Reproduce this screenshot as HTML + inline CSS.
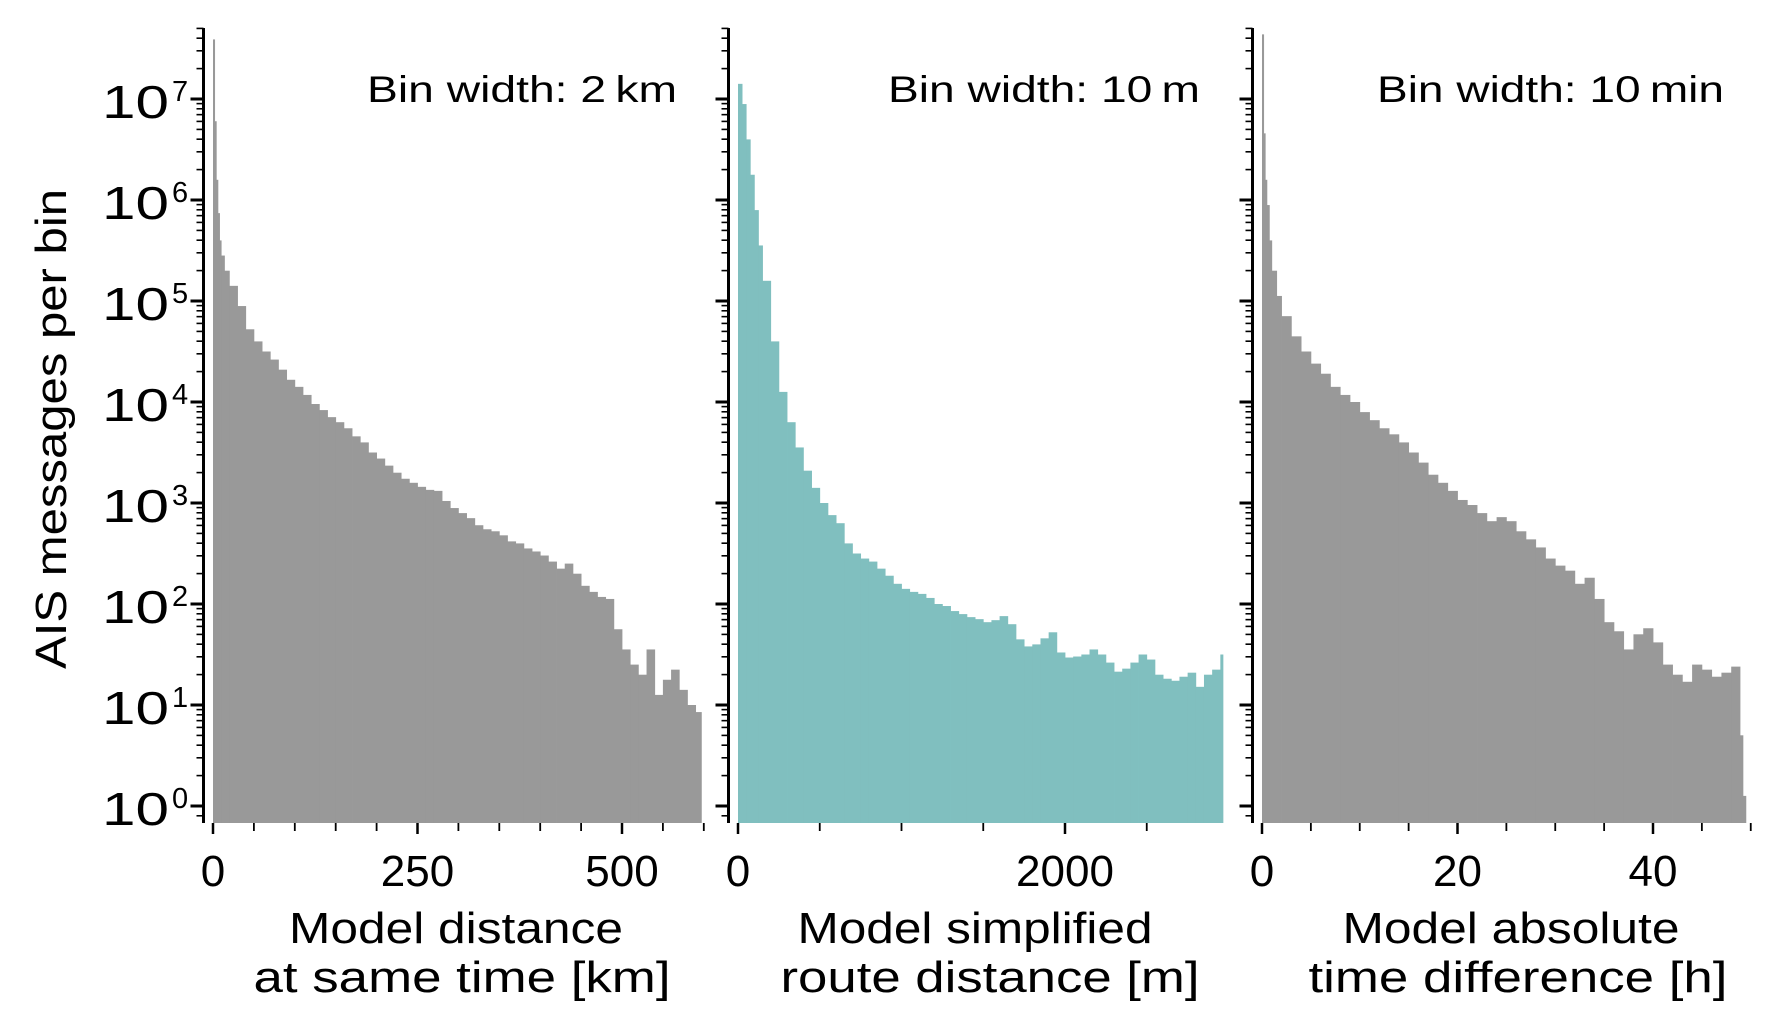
<!DOCTYPE html>
<html><head><meta charset="utf-8"><style>
html,body{margin:0;padding:0;background:#fff;}
svg{display:block;}
text{font-family:"Liberation Sans","DejaVu Sans",sans-serif;fill:#000;}
</style></head><body>
<svg id="chart" width="1782" height="1022" viewBox="0 0 1782 1022" xmlns="http://www.w3.org/2000/svg">
<text transform="translate(66,429) rotate(-90)" text-anchor="middle" font-size="44" textLength="480" lengthAdjust="spacingAndGlyphs">AIS messages per bin</text>
</svg>
<script>
// Panel 1: model distance at same time [km] — bin edges and log10(counts)
const p1Edges = [0,2,4,6,8,10,14,20,30,40,50,60,70,80,90,100,110,120,130,140,150,160,170,180,190,200,210,220,230,240,250,260,270,280,290,300,310,320,330,340,350,360,370,380,390,400,410,420,430,440,450,460,470,480,490,500,510,520,530,540,550,560,570,580,590,597];
const p1Log = [7.59,6.78,6.2,5.87,5.6,5.45,5.3,5.15,4.95,4.72,4.6,4.5,4.42,4.32,4.22,4.15,4.07,3.98,3.92,3.85,3.8,3.74,3.66,3.6,3.5,3.44,3.37,3.3,3.24,3.2,3.16,3.13,3.12,3.02,2.95,2.9,2.85,2.78,2.74,2.72,2.68,2.62,2.6,2.55,2.52,2.48,2.42,2.35,2.4,2.3,2.18,2.12,2.07,2.05,1.75,1.55,1.4,1.3,1.55,1.1,1.25,1.35,1.15,1.0,0.93];
// Panel 2: simplified route distance [m]
const p2Edges = [0,25,50,75,100,125,150,200,250,300,350,400,450,500,550,600,650,700,750,800,850,900,950,1000,1050,1100,1150,1200,1250,1300,1350,1400,1450,1500,1550,1600,1650,1700,1750,1800,1850,1900,1950,2000,2050,2100,2150,2200,2250,2300,2350,2400,2450,2500,2550,2600,2650,2700,2750,2800,2850,2900,2950,2966];
const p2Log = [7.15,6.95,6.6,6.25,5.9,5.55,5.2,4.6,4.1,3.8,3.55,3.32,3.15,3.0,2.88,2.8,2.6,2.5,2.45,2.42,2.35,2.28,2.2,2.15,2.12,2.1,2.06,2.0,1.98,1.93,1.9,1.87,1.85,1.82,1.84,1.88,1.8,1.65,1.58,1.6,1.66,1.72,1.52,1.47,1.48,1.5,1.55,1.5,1.42,1.33,1.36,1.42,1.5,1.45,1.3,1.26,1.24,1.28,1.32,1.18,1.3,1.35,1.5];
// Panel 3: absolute time difference [h]
const p3Edges = [0,0.17,0.33,0.5,0.75,1,1.5,2,3,4,5,6,7,8,9,10,11,12,13,14,15,16,17,18,19,20,21,22,23,24,25,26,27,28,29,30,31,32,33,34,35,36,37,38,39,40,41,42,43,44,45,46,47,48,48.9,49.2,49.5];
const p3Log = [7.64,6.66,6.2,5.95,5.6,5.3,5.05,4.85,4.65,4.5,4.38,4.28,4.15,4.07,4.0,3.9,3.82,3.74,3.68,3.6,3.5,3.4,3.28,3.2,3.12,3.03,2.98,2.9,2.82,2.86,2.82,2.72,2.64,2.56,2.45,2.38,2.33,2.2,2.26,2.05,1.82,1.73,1.55,1.7,1.76,1.62,1.4,1.3,1.23,1.4,1.35,1.28,1.32,1.38,0.7,0.1];
const p1Ticks = [0,250,500];
const p2Ticks = [0,2000];
const p3Ticks = [0,20,40];
const yDecades = [0,1,2,3,4,5,6,7];

const NS = "http://www.w3.org/2000/svg";
const svg = document.getElementById('chart');
const BASE = 823, AX_TOP = 28;
function yScale(lg){ return 806 - 101*lg; }
function mk(tag, attrs, parent){ const e=document.createElementNS(NS,tag); for(const k in attrs) e.setAttribute(k,attrs[k]); (parent||svg).appendChild(e); return e; }

const panels = [
 {axisX:203.5, x0:213, ppu:204.5/250, edges:p1Edges, logs:p1Log, ticks:p1Ticks, minor:50, xmax:600, color:"#999999",
  bin:"Bin width: 2\u2009km", binR:677, binW:310, l1:"Model distance", l2:"at same time [km]", c1:456, w1:334, c2:462, w2:417, name:"distance"},
 {axisX:728.5, x0:738, ppu:327/2000, edges:p2Edges, logs:p2Log, ticks:p2Ticks, minor:500, xmax:2970, color:"#80bfbf",
  bin:"Bin width: 10\u2009m", binR:1200, binW:312, l1:"Model simplified", l2:"route distance [m]", c1:975, w1:355, c2:990, w2:419, name:"route"},
 {axisX:1252.5, x0:1262, ppu:195.5/20, edges:p3Edges, logs:p3Log, ticks:p3Ticks, minor:5, xmax:50, color:"#999999",
  bin:"Bin width: 10\u2009min", binR:1724, binW:347, l1:"Model absolute", l2:"time difference [h]", c1:1511, w1:337, c2:1518, w2:419, name:"time"}
];

panels.forEach((p, pi) => {
  const g = mk('g', {});
  
  
  const xs = v => p.x0 + v*p.ppu;
  for (let i=0;i<p.logs.length;i++){
    const x1 = xs(p.edges[i]), x2 = xs(p.edges[i+1]);
    const yt = yScale(p.logs[i]);
    const r = mk('rect', {x:x1.toFixed(2), y:yt.toFixed(2), width:(x2-x1+0.4).toFixed(2), height:Math.max(0,BASE-yt).toFixed(2), fill:p.color}, g);
    
    
  }
  const ax = mk('line', {x1:p.axisX, y1:AX_TOP, x2:p.axisX, y2:BASE, stroke:"#000", "stroke-width":3}, g);
  
  
  yDecades.forEach(d => {
    const y = yScale(d);
    const t = mk('line', {x1:p.axisX-13, y1:y, x2:p.axisX, y2:y, stroke:"#000", "stroke-width":3}, g);
    
    
    for (let k=2;k<=9;k++){
      const ym = yScale(d+Math.log10(k));
      if (ym < AX_TOP) continue;
      const mt = mk('line', {x1:p.axisX-7, y1:ym, x2:p.axisX, y2:ym, stroke:"#000", "stroke-width":1.6}, g);
      
      
    }
    if (pi===0){
      const lb = mk('text', {x:169, y:y+19, "font-size":46, "text-anchor":"end", textLength:67, lengthAdjust:"spacingAndGlyphs"}, g);
      lb.textContent = "10";
      
      
      const sp = mk('text', {x:172, y:y+2, "font-size":29}, g);
      sp.textContent = String(d);
      
      
    }
  });
  const ym5 = yScale(Math.log10(0.8));
  const mt0 = mk('line', {x1:p.axisX-7, y1:ym5, x2:p.axisX, y2:ym5, stroke:"#000", "stroke-width":1.6}, g);
  
  
  for (let v=0; v<=p.xmax+1e-9; v+=p.minor){
    const x = xs(v);
    const major = p.ticks.indexOf(v) >= 0;
    const t = mk('line', {x1:x, y1:BASE, x2:x, y2:BASE+(major?11:8), stroke:"#000", "stroke-width":major?2.5:1.8}, g);
    
    
  }
  p.ticks.forEach(v => {
    const lb = mk('text', {x:xs(v), y:886, "font-size":44, "text-anchor":"middle"}, g);
    lb.textContent = String(v);
    
    
  });
  const bt = mk('text', {x:p.binR, y:102, "font-size":37, "text-anchor":"end", textLength:p.binW, lengthAdjust:"spacingAndGlyphs"}, g);
  bt.textContent = p.bin;
  
  
  const a1 = mk('text', {x:p.c1, y:943, "font-size":44, "text-anchor":"middle", textLength:p.w1, lengthAdjust:"spacingAndGlyphs"}, g);
  a1.textContent = p.l1;
  
  
  const a2 = mk('text', {x:p.c2, y:992, "font-size":44, "text-anchor":"middle", textLength:p.w2, lengthAdjust:"spacingAndGlyphs"}, g);
  a2.textContent = p.l2;
  
  
});
</script>
</body></html>
